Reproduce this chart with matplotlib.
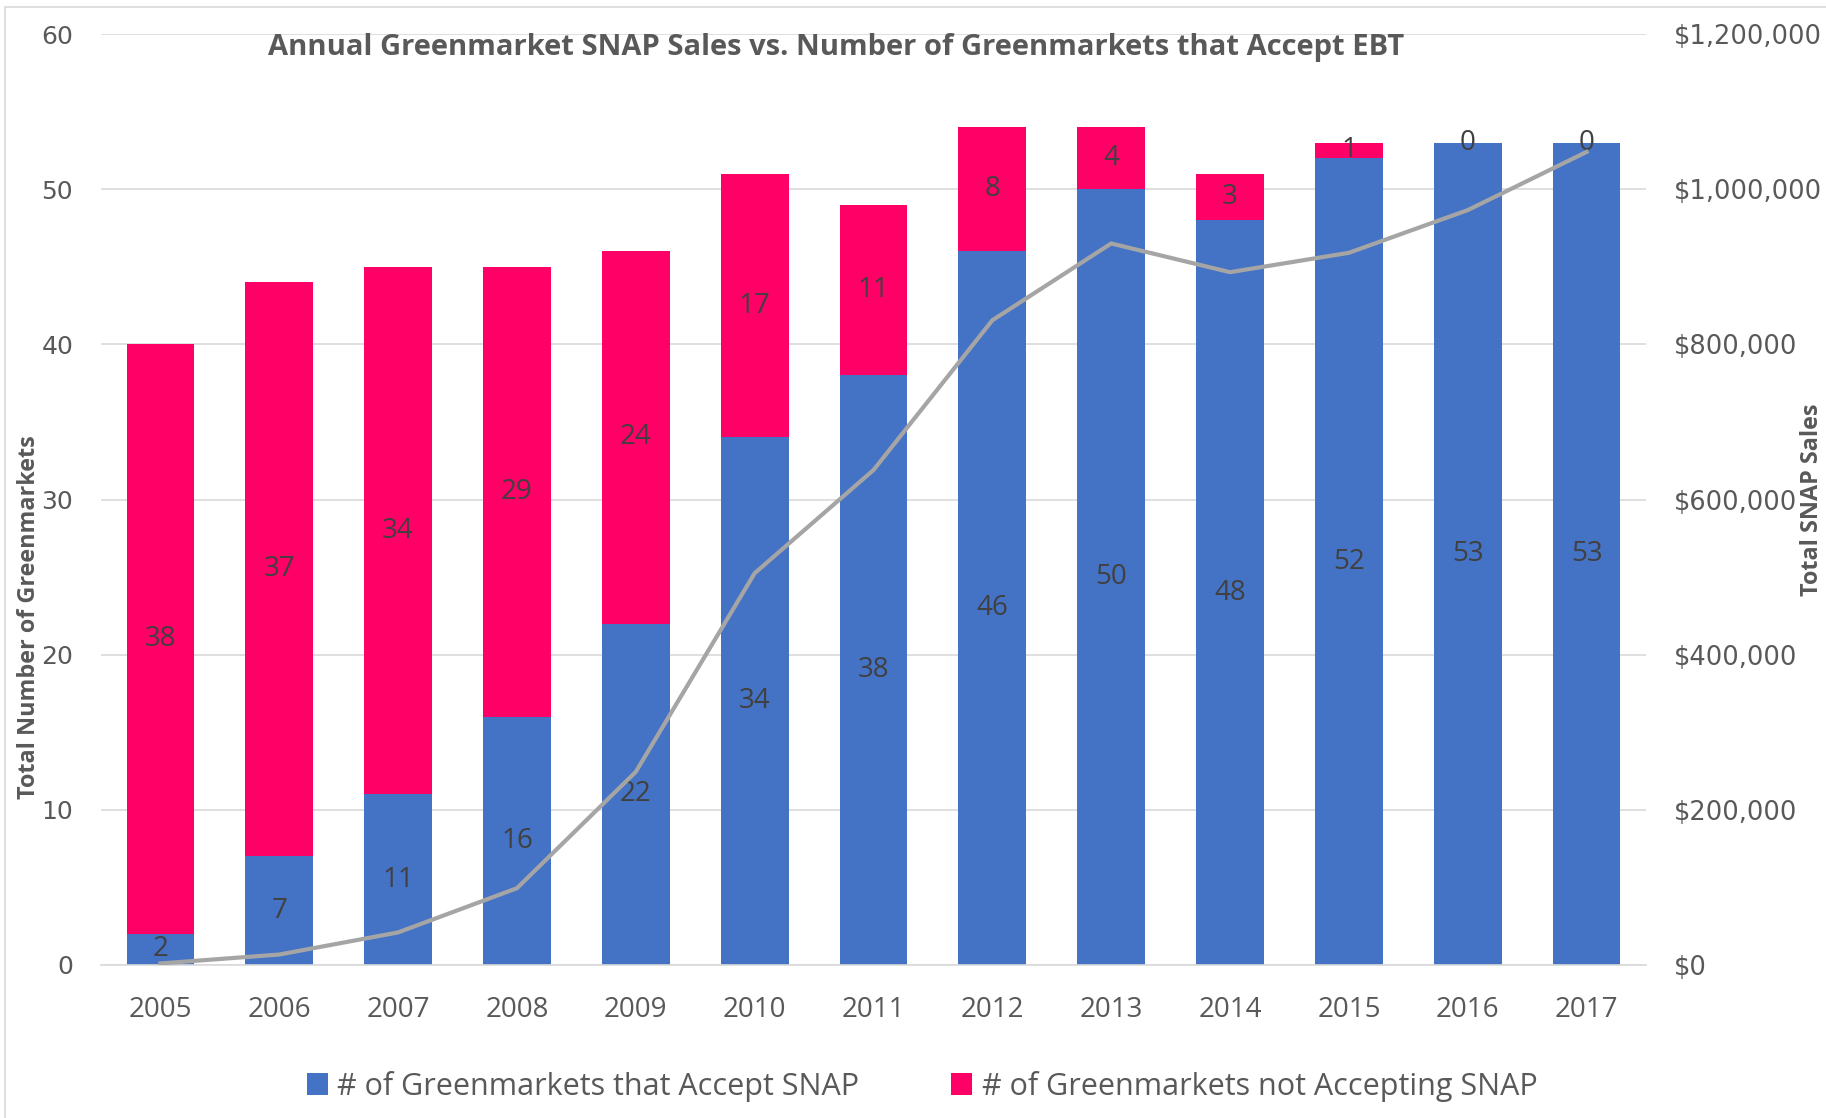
import numpy as np
import matplotlib.pyplot as plt
from matplotlib.ticker import FuncFormatter
from matplotlib.patches import Rectangle

# ==================== data ====================
YEARS = ['2005', '2006', '2007', '2008', '2009', '2010', '2011',
         '2012', '2013', '2014', '2015', '2016', '2017']
ACCEPT = [2, 7, 11, 16, 22, 34, 38, 46, 50, 48, 52, 53, 53]
NOT_ACCEPT = [38, 37, 34, 29, 24, 17, 11, 8, 4, 3, 1, 0, 0]
SNAP_SALES = [2000, 13500, 42000, 99000, 249000, 505000, 638000,
              831000, 930000, 893000, 918000, 973000, 1048000]

BLUE = '#4472C4'
PINK = '#FF0066'
GREY_LINE = '#A5A5A5'
TXT = '#595959'
NARROW = ['Liberation Sans Narrow', 'Open Sans', 'DejaVu Sans']
WIDE = ['DejaVu Sans']

W, H = 1826, 1118
fig = plt.figure(figsize=(W / 100, H / 100), dpi=100)
ax = fig.add_axes([101 / W, 1 - 965 / H, (1646 - 101) / W, (965 - 34) / H])

x = np.arange(len(YEARS))
bw = 0.57
b1 = ax.bar(x, ACCEPT, bw, color=BLUE, zorder=2, label='# of Greenmarkets that Accept SNAP')
b2 = ax.bar(x, NOT_ACCEPT, bw, bottom=ACCEPT, color=PINK, zorder=2,
            label='# of Greenmarkets not Accepting SNAP')

# data labels
for i in range(len(YEARS)):
    ax.text(x[i], ACCEPT[i] / 2, str(ACCEPT[i]), ha='center', va='center',
            fontsize=20, color='#404040', family=NARROW, zorder=5)
    ax.text(x[i], ACCEPT[i] + NOT_ACCEPT[i] / 2, str(NOT_ACCEPT[i]), ha='center', va='center',
            fontsize=20, color='#404040', family=NARROW, zorder=5)

ax.set_xlim(-0.5, len(YEARS) - 0.5)
ax.set_ylim(0, 60)
ax.set_yticks(range(0, 61, 10))
ax.set_xticks(x)
ax.set_xticklabels(YEARS)
ax.grid(axis='y', color='#D9D9D9', linewidth=1.2, zorder=0)
ax.set_axisbelow(True)
for s in ['top', 'right', 'left']:
    ax.spines[s].set_visible(False)
ax.spines['bottom'].set_color('#D9D9D9')
ax.spines['bottom'].set_linewidth(1.2)
ax.tick_params(axis='both', length=0, labelcolor=TXT)
ax.tick_params(axis='y', labelsize=18, pad=20)
ax.tick_params(axis='x', labelsize=20, pad=22)
for lab in ax.get_yticklabels():
    lab.set_family(WIDE)
for lab in ax.get_xticklabels():
    lab.set_family(['Open Sans', 'DejaVu Sans'])

# secondary axis: SNAP sales
ax2 = ax.twinx()
ax2.plot(x, SNAP_SALES, color=GREY_LINE, linewidth=3, zorder=4)
ax2.set_ylim(0, 1200000)
ax2.set_yticks(range(0, 1200001, 200000))
ax2.yaxis.set_major_formatter(FuncFormatter(lambda v, p: f'${int(v):,}'))
for s in ['top', 'right', 'left', 'bottom']:
    ax2.spines[s].set_visible(False)
ax2.tick_params(axis='y', length=0, labelsize=18.5, labelcolor=TXT, pad=20)
for lab in ax2.get_yticklabels():
    lab.set_family(WIDE)

# titles and axis labels
fig.text(836 / W, 1 - 47 / H, 'Annual Greenmarket SNAP Sales vs. Number of Greenmarkets that Accept EBT',
         ha='center', va='center', fontsize=21, fontweight='bold', color=TXT, family=NARROW)
fig.text(29 / W, 1 - 617 / H, 'Total Number of Greenmarkets', rotation=90, ha='center', va='center',
         fontsize=16.8, fontweight='bold', color=TXT, family=NARROW)
fig.text(1812 / W, 1 - 500 / H, 'Total SNAP Sales', rotation=90, ha='center', va='center',
         fontsize=16.8, fontweight='bold', color=TXT, family=NARROW)

# legend
fig.legend(handles=[b1, b2], loc='center', bbox_to_anchor=(922 / W, 1 - 1086 / H), ncol=2,
           frameon=False, prop={'family': NARROW, 'size': 22}, labelcolor=TXT,
           handlelength=0.7, handleheight=0.7, handletextpad=0.3, columnspacing=3.0)

# chart border
fig.patches.append(Rectangle((5 / W, -0.01), 1.0, 1 - 7 / H + 0.01, transform=fig.transFigure,
                             fill=False, edgecolor='#D9D9D9', linewidth=1.2))

fig.savefig('out.png', dpi=100)
